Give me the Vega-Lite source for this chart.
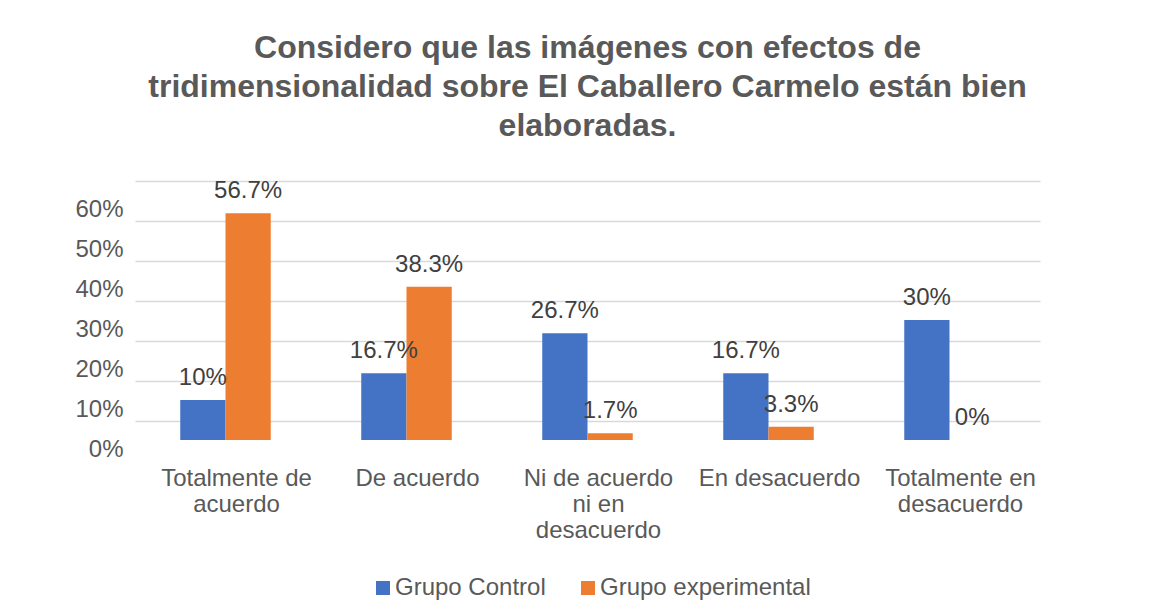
{
  "$schema": "https://vega.github.io/schema/vega-lite/v6.json",
  "width": 905,
  "height": 240,
  "autosize": "none",
  "padding": {"left": 135, "top": 200, "right": 123, "bottom": 176},
  "background": "white",
  "config": {"view": {"stroke": null}, "font": "Liberation Sans"},
  "title": {
    "text": ["Considero que las imágenes con efectos de", "tridimensionalidad sobre El Caballero Carmelo están bien", "elaboradas."],
    "fontSize": 32, "font": "Liberation Sans", "fontWeight": "bold", "color": "#595959",
    "lineHeight": 39, "offset": 36, "anchor": "middle"
  },
  "data": {"values": [
    {"categoria": "Totalmente de acuerdo", "grupo": "Grupo Control", "valor": 0.10},
    {"categoria": "Totalmente de acuerdo", "grupo": "Grupo experimental", "valor": 0.567},
    {"categoria": "De acuerdo", "grupo": "Grupo Control", "valor": 0.167},
    {"categoria": "De acuerdo", "grupo": "Grupo experimental", "valor": 0.383},
    {"categoria": "Ni de acuerdo ni en desacuerdo", "grupo": "Grupo Control", "valor": 0.267},
    {"categoria": "Ni de acuerdo ni en desacuerdo", "grupo": "Grupo experimental", "valor": 0.017},
    {"categoria": "En desacuerdo", "grupo": "Grupo Control", "valor": 0.167},
    {"categoria": "En desacuerdo", "grupo": "Grupo experimental", "valor": 0.033},
    {"categoria": "Totalmente en desacuerdo", "grupo": "Grupo Control", "valor": 0.30},
    {"categoria": "Totalmente en desacuerdo", "grupo": "Grupo experimental", "valor": 0.0}
  ]},
  "encoding": {
    "x": {
      "field": "categoria", "type": "nominal", "sort": null,
      "scale": {"paddingInner": 0, "paddingOuter": 0},
      "axis": {
        "title": null, "labelAngle": 0, "domain": false, "ticks": false,
        "labelFontSize": 24, "labelColor": "#595959", "labelPadding": 26,
        "labelLineHeight": 26, "labelOffset": 11, "labelLimit": 0, "grid": false,
        "labelExpr": "datum.value == 'Totalmente de acuerdo' ? ['Totalmente de', 'acuerdo'] : datum.value == 'Ni de acuerdo ni en desacuerdo' ? ['Ni de acuerdo', 'ni en', 'desacuerdo'] : datum.value == 'Totalmente en desacuerdo' ? ['Totalmente en', 'desacuerdo'] : datum.value"
      }
    },
    "xOffset": {
      "field": "grupo", "type": "nominal", "sort": ["Grupo Control", "Grupo experimental"],
      "scale": {"paddingInner": 0, "paddingOuter": 1.2625}
    },
    "y": {
      "field": "valor", "type": "quantitative",
      "scale": {"domain": [0, 0.6], "nice": false},
      "axis": {
        "title": null, "format": ".0%", "values": [0, 0.1, 0.2, 0.3, 0.4, 0.5, 0.6],
        "domain": false, "ticks": false, "grid": true, "gridColor": "#D9D9D9", "gridWidth": 1.5,
        "tickOffset": -19, "labelOffset": 28, "labelPadding": 12,
        "labelFontSize": 24, "labelColor": "#595959"
      }
    }
  },
  "layer": [
    {
      "mark": {"type": "bar"},
      "encoding": {
        "color": {
          "field": "grupo", "type": "nominal",
          "scale": {"domain": ["Grupo Control", "Grupo experimental"], "range": ["#4472C4", "#ED7D31"]},
          "legend": {
            "title": null, "orient": "none", "direction": "horizontal",
            "legendX": 236, "legendY": 376,
            "symbolType": "square", "symbolSize": 196, "symbolStrokeWidth": 0,
            "labelFontSize": 24, "labelColor": "#595959", "labelOffset": 0, "labelLimit": 0,
            "columnPadding": 30
          }
        }
      }
    },
    {
      "mark": {"type": "text", "baseline": "bottom", "dy": -10, "fontSize": 24, "color": "#404040"},
      "encoding": {
        "text": {"field": "valor", "type": "quantitative", "format": ".1~%"}
      }
    }
  ]
}
